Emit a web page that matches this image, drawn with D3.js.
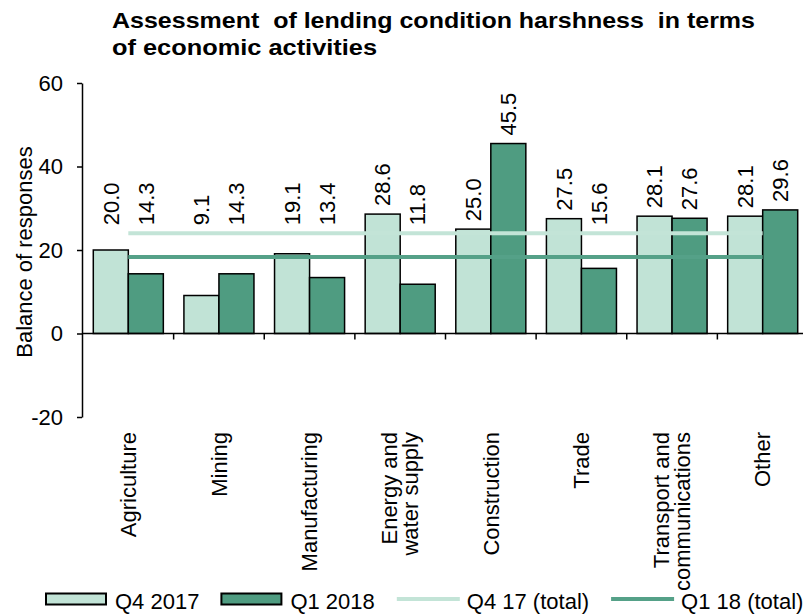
<!DOCTYPE html>
<html>
<head>
<meta charset="utf-8">
<script src="https://cdn.jsdelivr.net/npm/d3@7/dist/d3.min.js"></script>
<style>
  html, body { margin: 0; padding: 0; background: #fff; }
  svg { display: block; font-family: "Liberation Sans", Arial, sans-serif; }
  text { white-space: pre; }
</style>
</head>
<body>
<svg id="chart" width="803" height="614"></svg>
<script>
// Lending condition balances by economic activity
const categories = [
  ["Agriculture"], ["Mining"], ["Manufacturing"], ["Energy and", "water supply"],
  ["Construction"], ["Trade"], ["Transport and", "communications"], ["Other"]
];
const seriesNames = ["Q4 2017", "Q1 2018"];
const q4_2017 = [20.0, 9.1, 19.1, 28.6, 25.0, 27.5, 28.1, 28.1];
const q1_2018 = [14.3, 14.3, 13.4, 11.8, 45.5, 15.6, 27.6, 29.6];
const totalNames = ["Q4 17 (total)", "Q1 18 (total)"];
const totals = [24.0, 18.3];
const yTicks = [-20, 0, 20, 40, 60];
const titleLines = ["Assessment  of lending condition harshness  in terms", "of economic activities"];
const yTitle = "Balance of responses";

const lightFill = "#c1e3d6";
const darkFill = "#4f9c81";
const lightLine = "#c3e4d7";
const darkLine = "#55a188";
const fontSize = 22;

const svg = d3.select("#chart");
const keys = categories.map((c, i) => i);

const x0 = d3.scaleBand().domain(keys).range([83, 808]).padding(0);
const x1 = d3.scaleBand().domain([0, 1]).range([0, x0.bandwidth()])
  .paddingInner(0).paddingOuter(0.294);
const y = d3.scaleLinear().domain([-20, 60]).range([417, 83]);

const rows = keys.map(i => [q4_2017[i], q1_2018[i]]);
const fills = [lightFill, darkFill];

// Title
titleLines.forEach((t, i) => {
  svg.append("text")
    .attr("x", 112).attr("y", 28 + i * 27)
    .attr("font-size", 22).attr("font-weight", "bold")
    .attr("textLength", i === 0 ? 643 : 265)
    .attr("lengthAdjust", "spacingAndGlyphs")
    .attr("fill", "#000")
    .text(t);
});

// Bars
const groups = svg.append("g").selectAll("g").data(rows).join("g")
  .attr("transform", (d, i) => `translate(${x0(i)},0)`);
groups.selectAll("rect").data(d => d.map((v, s) => ({ v, s }))).join("rect")
  .attr("x", d => x1(d.s))
  .attr("width", x1.bandwidth())
  .attr("y", d => y(Math.max(0, d.v)))
  .attr("height", d => Math.abs(y(d.v) - y(0)))
  .attr("fill", d => fills[d.s])
  .attr("stroke", "#000")
  .attr("stroke-width", 1.5);

// Total reference lines across the category centres
const firstC = x0(keys[0]) + x0.bandwidth() / 2;
const lastC = x0(keys[keys.length - 1]) + x0.bandwidth() / 2;
[lightLine, darkLine].forEach((col, i) => {
  svg.append("line")
    .attr("x1", firstC).attr("x2", lastC)
    .attr("y1", y(totals[i])).attr("y2", y(totals[i]))
    .attr("stroke", col).attr("stroke-width", 4);
});

// Value labels, lifted above the upper total line where needed
const labelTop = y(d3.max(totals));
groups.selectAll("text.val").data(d => d.map((v, s) => ({ v, s }))).join("text")
  .attr("class", "val")
  .attr("transform", d => {
    const cx = x1(d.s) + x1.bandwidth() / 2;
    const by = Math.min(y(d.v), labelTop) - 8;
    return `translate(${cx},${by}) rotate(-90)`;
  })
  .attr("dy", "0.35em")
  .attr("text-anchor", "start")
  .attr("font-size", fontSize)
  .attr("fill", "#000")
  .text(d => d.v.toFixed(1));

// Y axis
const yAxis = d3.axisLeft(y).tickValues(yTicks).tickSize(5).tickSizeOuter(0).tickPadding(14)
  .tickFormat(d => String(d));
const yg = svg.append("g").attr("transform", "translate(82,0)").call(yAxis);
yg.select(".domain").attr("stroke", "#000").attr("stroke-width", 1.5);
yg.selectAll(".tick line").attr("stroke", "#000").attr("stroke-width", 1.5);
yg.selectAll(".tick text").attr("font-size", fontSize).attr("fill", "#000")
  .attr("font-family", "Liberation Sans, Arial, sans-serif");

svg.append("text")
  .attr("transform", `translate(24,${(y(60) + y(-20)) / 2 + 2}) rotate(-90)`)
  .attr("text-anchor", "middle").attr("dy", "0.35em")
  .attr("font-size", fontSize).attr("fill", "#000")
  .text(yTitle);

// Category axis along zero
svg.append("line")
  .attr("x1", 82).attr("x2", 808)
  .attr("y1", y(0)).attr("y2", y(0))
  .attr("stroke", "#000").attr("stroke-width", 1.5);
keys.slice(1).forEach(k => {
  svg.append("line")
    .attr("x1", x0(k)).attr("x2", x0(k))
    .attr("y1", y(0)).attr("y2", y(0) + 6)
    .attr("stroke", "#000").attr("stroke-width", 1.5);
});

// Category labels, rotated, hanging below the plot
const lineGap = 21;
keys.forEach(k => {
  const lines = categories[k];
  const cx = x0(k) + x0.bandwidth() / 2;
  lines.forEach((t, j) => {
    const off = (j - (lines.length - 1) / 2) * lineGap;
    svg.append("text")
      .attr("transform", `translate(${cx + off},${y(-20) + 15}) rotate(-90)`)
      .attr("text-anchor", "end").attr("dy", "0.35em")
      .attr("font-size", fontSize).attr("fill", "#000")
      .text(t);
  });
});

// Legend
const legend = svg.append("g");
let lx = 46;
const ly = 599;
const items = [
  { type: "rect", color: lightFill, label: seriesNames[0] },
  { type: "rect", color: darkFill, label: seriesNames[1] },
  { type: "line", color: lightLine, label: totalNames[0] },
  { type: "line", color: darkLine, label: totalNames[1] }
];
items.forEach(it => {
  if (it.type === "rect") {
    legend.append("rect").attr("x", lx).attr("y", ly - 5.5).attr("width", 60).attr("height", 11)
      .attr("fill", it.color).attr("stroke", "#000").attr("stroke-width", 2);
  } else {
    legend.append("line").attr("x1", lx).attr("x2", lx + 63).attr("y1", ly).attr("y2", ly)
      .attr("stroke", it.color).attr("stroke-width", 4);
  }
  const t = legend.append("text").attr("x", lx + (it.type === "rect" ? 69 : 70)).attr("y", 609)
    .attr("font-size", fontSize).attr("fill", "#000").text(it.label);
  lx = lx + (it.type === "rect" ? 69 : 70) + t.node().getComputedTextLength() + 22;
});
</script>
</body>
</html>
